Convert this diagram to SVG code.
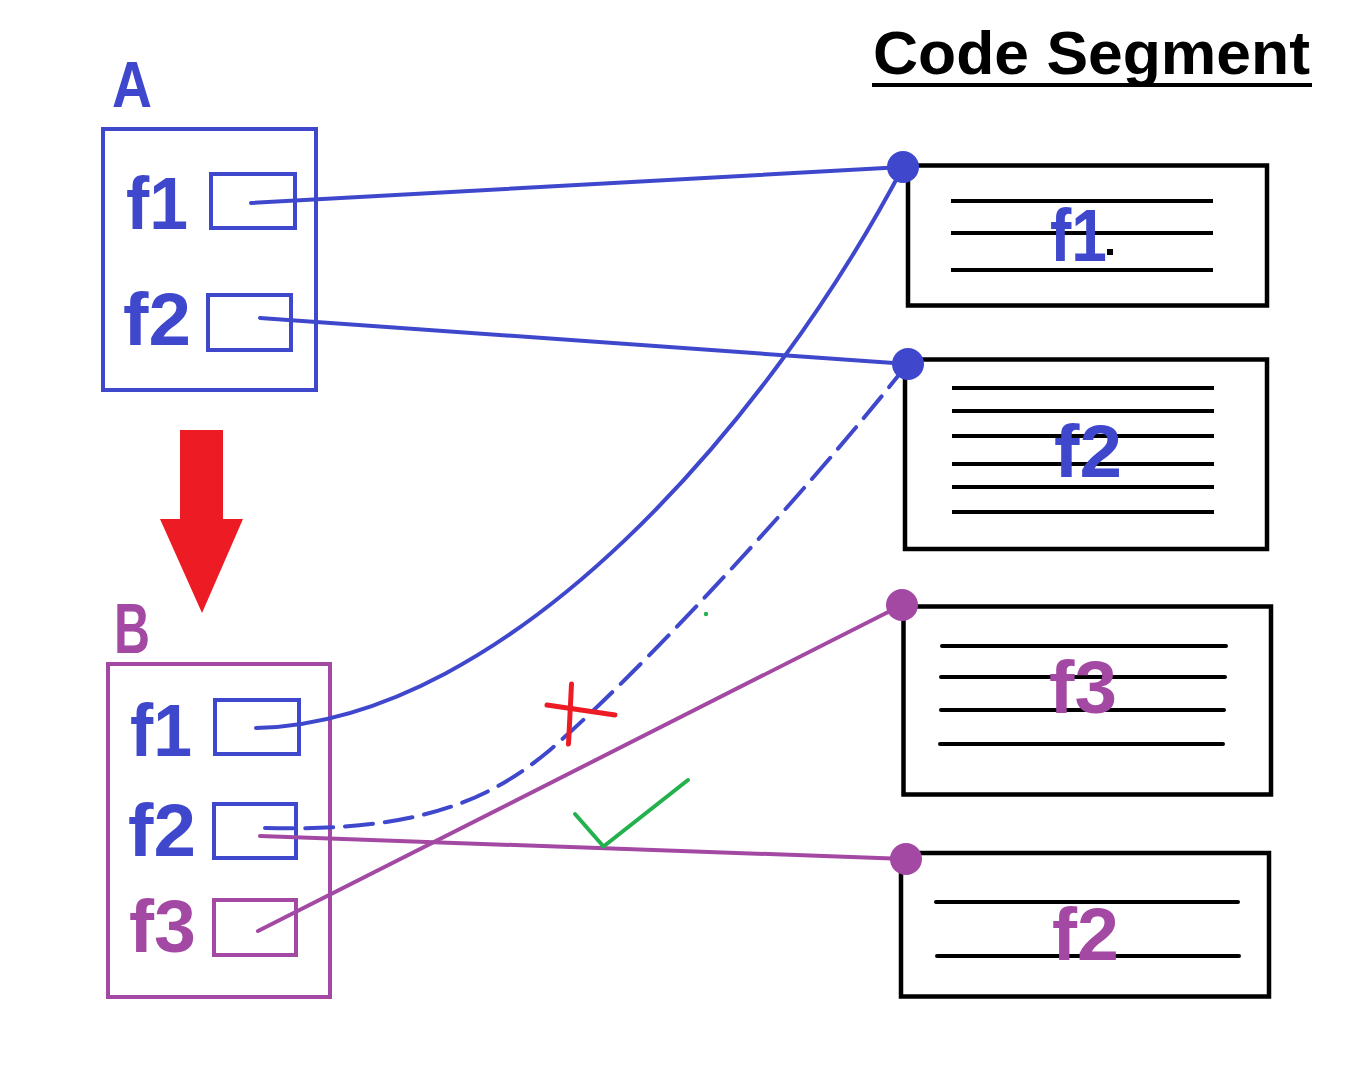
<svg xmlns="http://www.w3.org/2000/svg" width="1346" height="1068" viewBox="0 0 1346 1068">
<style>
.t{font-family:"Comic Sans MS","Liberation Sans","DejaVu Sans",sans-serif;font-weight:bold}
.blue{fill:#3f48cc}
.purp{fill:#a349a4}
.bbox{fill:none;stroke:#3f48cc;stroke-width:4}
.pbox{fill:none;stroke:#a349a4;stroke-width:4}
.kbox{fill:none;stroke:#000;stroke-width:4.5}
.kl{stroke:#000;stroke-width:4}
.klr{stroke:#000;stroke-width:4;stroke-linecap:round}
.cb{fill:none;stroke:#3f48cc;stroke-width:4;stroke-linecap:round}
.cp{fill:none;stroke:#a349a4;stroke-width:4;stroke-linecap:round}
</style>
<rect width="1346" height="1068" fill="#fff"/>
<g id="title">
<text class="t" x="873" y="74" font-size="62" textLength="437" lengthAdjust="spacingAndGlyphs" fill="#000">Code Segment</text>
<line x1="872" y1="85" x2="1312" y2="85" stroke="#000" stroke-width="4"/>
</g>
<g id="nodeA">
<text class="t blue" x="112" y="107" font-size="65" textLength="40" lengthAdjust="spacingAndGlyphs">A</text>
<rect class="bbox" x="103" y="129" width="213" height="261"/>
<text class="t blue" x="126" y="229" font-size="74" textLength="62" lengthAdjust="spacingAndGlyphs">f1</text>
<rect class="bbox" x="211" y="174" width="84" height="54"/>
<text class="t blue" x="123" y="345" font-size="74" textLength="68" lengthAdjust="spacingAndGlyphs">f2</text>
<rect class="bbox" x="208" y="295" width="83" height="55"/>
</g>
<g id="arrow">
<polygon points="180,430 223,430 223,519 243,519 202,613 160,519 180,519" fill="#ed1c24"/>
</g>
<g id="nodeB">
<text class="t purp" x="114" y="653" font-size="70" textLength="36" lengthAdjust="spacingAndGlyphs">B</text>
<rect class="pbox" x="108" y="664" width="222" height="333"/>
<text class="t blue" x="130" y="756" font-size="74" textLength="62" lengthAdjust="spacingAndGlyphs">f1</text>
<rect class="bbox" x="215" y="700" width="84" height="54"/>
<text class="t blue" x="128" y="856" font-size="74" textLength="68" lengthAdjust="spacingAndGlyphs">f2</text>
<rect class="bbox" x="214" y="804" width="82" height="54"/>
<text class="t purp" x="129" y="952" font-size="74" textLength="67" lengthAdjust="spacingAndGlyphs">f3</text>
<rect class="pbox" x="214" y="900" width="82" height="55"/>
</g>
<g id="code1">
<rect class="kbox" x="908" y="165.5" width="359" height="140"/>
<line class="kl" x1="951" y1="201" x2="1213" y2="201"/>
<line class="kl" x1="951" y1="233" x2="1213" y2="233"/>
<line class="kl" x1="951" y1="270" x2="1213" y2="270"/>
<text class="t blue" x="1050" y="261" font-size="74" textLength="57" lengthAdjust="spacingAndGlyphs">f1</text>
<rect x="1107" y="249" width="6" height="6" fill="#000"/>
</g>
<g id="code2">
<rect class="kbox" x="905" y="359.5" width="362" height="189.5"/>
<line class="kl" x1="952" y1="388" x2="1214" y2="388"/>
<line class="kl" x1="952" y1="411" x2="1214" y2="411"/>
<line class="kl" x1="952" y1="436" x2="1214" y2="436"/>
<line class="kl" x1="952" y1="464" x2="1214" y2="464"/>
<line class="kl" x1="952" y1="487" x2="1214" y2="487"/>
<line class="kl" x1="952" y1="512" x2="1214" y2="512"/>
<text class="t blue" x="1054" y="477" font-size="74" textLength="68" lengthAdjust="spacingAndGlyphs">f2</text>
</g>
<g id="code3">
<rect class="kbox" x="903.5" y="606.5" width="367.5" height="188"/>
<line class="klr" x1="942" y1="646" x2="1226" y2="646"/>
<line class="klr" x1="941" y1="677" x2="1225" y2="677"/>
<line class="klr" x1="941" y1="710" x2="1224" y2="710"/>
<line class="klr" x1="940" y1="744" x2="1223" y2="744"/>
<text class="t purp" x="1049" y="713" font-size="74" textLength="68" lengthAdjust="spacingAndGlyphs">f3</text>
</g>
<g id="code4">
<rect class="kbox" x="901" y="853" width="368" height="143.5"/>
<line class="klr" x1="936" y1="902" x2="1238" y2="902"/>
<line class="klr" x1="937" y1="956" x2="1239" y2="956"/>
<text class="t purp" x="1052" y="960" font-size="74" textLength="67" lengthAdjust="spacingAndGlyphs">f2</text>
</g>
<g id="connectors">
<line class="cb" x1="251" y1="203" x2="903" y2="167"/>
<line class="cb" x1="260" y1="318" x2="908" y2="364"/>
<path class="cb" d="M256,728 C510,722 770,420 903,167"/>
<path class="cb" stroke-linecap="butt" stroke-dasharray="28 12" d="M265,828 C420,832 490,800 550,750 C640,672 800,500 906,366"/>
<line class="cp" x1="258" y1="931" x2="902" y2="605"/>
<line class="cp" x1="260" y1="836" x2="906" y2="859"/>
<circle cx="903" cy="167" r="16" fill="#3f48cc"/>
<circle cx="908" cy="364" r="16" fill="#3f48cc"/>
<circle cx="902" cy="605" r="16" fill="#a349a4"/>
<circle cx="906" cy="859" r="16" fill="#a349a4"/>
</g>
<g id="marks">
<line x1="571.5" y1="684" x2="568.5" y2="744" stroke="#ed1c24" stroke-width="5" stroke-linecap="round"/>
<line x1="547" y1="705" x2="615" y2="715" stroke="#ed1c24" stroke-width="5" stroke-linecap="round"/>
<polyline points="575,814 603.5,846.5 688,780" fill="none" stroke="#22b14c" stroke-width="4" stroke-linecap="round" stroke-linejoin="round"/>
<circle cx="706" cy="614" r="2.2" fill="#22b14c"/>
</g>
</svg>
